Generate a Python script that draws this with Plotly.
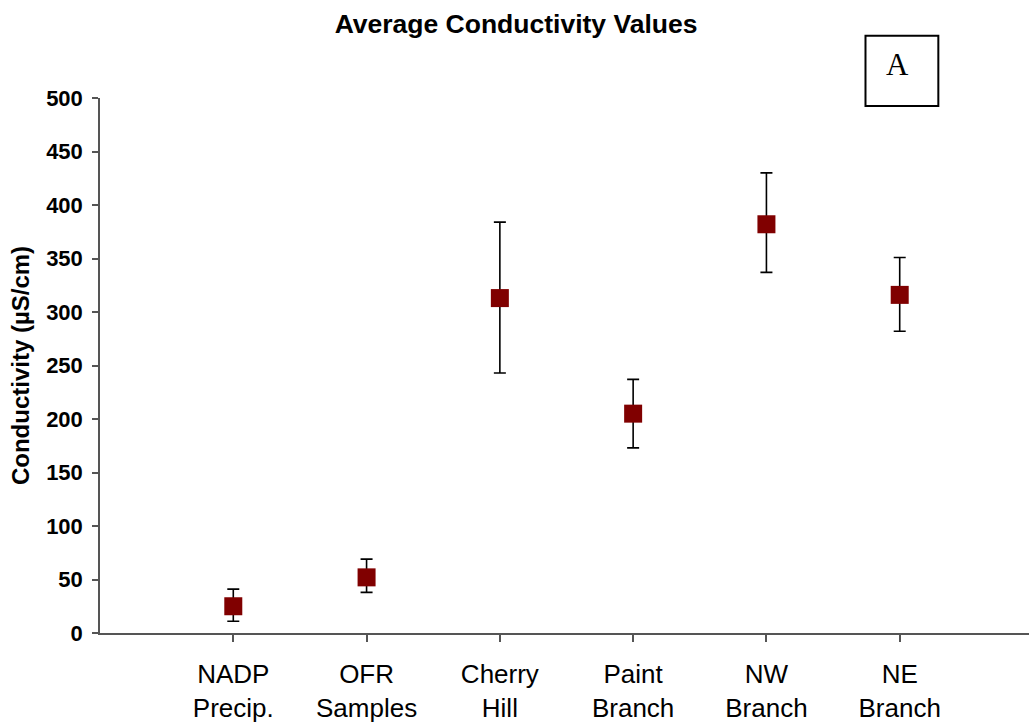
import plotly.graph_objects as go

categories = ["NADP<br>Precip.", "OFR<br>Samples", "Cherry<br>Hill", "Paint<br>Branch", "NW<br>Branch", "NE<br>Branch"]
means = [25, 52, 313, 205, 382, 316]
err_plus = [16, 17, 71, 32, 48, 35]
err_minus = [14, 14, 70, 32, 45, 34]
y_ticks = [0, 50, 100, 150, 200, 250, 300, 350, 400, 450, 500]

fig = go.Figure()
fig.add_trace(go.Scatter(
    x=categories, y=means, mode="markers",
    marker=dict(symbol="square", size=18, color="#800000"),
    error_y=dict(type="data", symmetric=False, array=err_plus, arrayminus=err_minus,
                 color="black", thickness=1.6, width=6),
    showlegend=False,
))

fig.update_layout(
    width=1029, height=726,
    margin=dict(l=100, r=0, t=98, b=93),
    paper_bgcolor="white", plot_bgcolor="white",
    title=dict(text="<b>Average Conductivity Values</b>", x=0.5015, xanchor="center",
               y=0.968, yanchor="middle",
               font=dict(family="Liberation Sans, Arial", size=26.5, color="black")),
    font=dict(family="Liberation Sans, Arial", color="black"),
    xaxis=dict(type="category", range=[-1.0, 5.97], showline=True, linecolor="#555555", linewidth=1.5,
               ticks="outside", ticklen=7, tickcolor="#555555", tickwidth=1.5,
               tickfont=dict(size=26, color="black"), ticklabelstandoff=10,
               showgrid=False, zeroline=False),
    yaxis=dict(range=[0, 500], tickvals=y_ticks, showline=True, linecolor="#555555", linewidth=1.5,
               ticks="outside", ticklen=6, tickcolor="#555555", tickwidth=1.5,
               tickfont=dict(size=22, color="black", weight="bold"), ticklabelstandoff=5,
               showgrid=False, zeroline=False,
               title=dict(text="<b>Conductivity (µS/cm)</b>", font=dict(size=24, color="black"), standoff=10)),
)

fig.add_shape(type="rect", xref="paper", yref="paper", x0=0.824, x1=0.9024, y0=0.985, y1=1.1164,
              line=dict(color="black", width=2), fillcolor="white")
fig.add_annotation(text="A", xref="paper", yref="paper", x=0.858, y=1.0617, showarrow=False,
                   xanchor="center", yanchor="middle",
                   font=dict(family="Liberation Serif, Times New Roman", size=31, color="black"))

fig.write_html("out.html")
